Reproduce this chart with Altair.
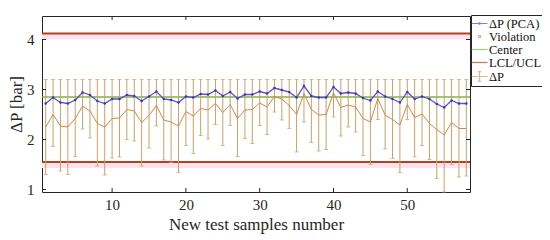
import altair as alt
import pandas as pd

# ---------------- data ----------------
samples = list(range(1, 59))
pca = [2.72, 2.84, 2.74, 2.72, 2.79, 2.94, 2.89, 2.77, 2.72, 2.81,
       2.81, 2.89, 2.87, 2.77, 2.86, 2.96, 2.81, 2.79, 2.74, 2.86,
       2.84, 2.91, 2.90, 2.98, 2.87, 2.95, 2.82, 2.90, 2.90, 2.96,
       2.92, 3.03, 2.99, 2.95, 2.84, 3.07, 2.87, 2.84, 2.84, 3.05,
       2.92, 2.94, 2.92, 2.83, 2.78, 2.96, 2.86, 2.81, 2.74, 2.95,
       2.81, 2.86, 2.81, 2.71, 2.64, 2.78, 2.72, 2.72]
dp = [2.25, 2.50, 2.27, 2.25, 2.42, 2.67, 2.57, 2.32, 2.25, 2.42,
      2.43, 2.60, 2.57, 2.34, 2.48, 2.68, 2.39, 2.35, 2.27, 2.56,
      2.47, 2.62, 2.59, 2.72, 2.54, 2.70, 2.42, 2.59, 2.60, 2.73,
      2.65, 2.86, 2.81, 2.68, 2.50, 2.92, 2.60, 2.49, 2.50, 2.93,
      2.64, 2.69, 2.65, 2.42, 2.35, 2.82, 2.49, 2.40, 2.29, 2.70,
      2.44, 2.51, 2.32, 2.20, 2.09, 2.34, 2.22, 2.22]
lower = [1.30, 1.86, 1.37, 1.30, 1.66, 2.21, 2.03, 1.47, 1.29, 1.63,
         1.65, 2.00, 1.97, 1.47, 1.83, 2.27, 1.59, 1.54, 1.34, 1.88,
         1.72, 2.08, 2.01, 2.30, 1.88, 2.28, 1.66, 2.02, 1.92, 2.28,
         2.10, 2.55, 2.39, 2.22, 1.75, 2.35, 1.94, 1.77, 1.80, 2.45,
         2.07, 2.25, 2.15, 1.68, 1.50, 2.40, 1.81, 1.62, 1.34, 2.40,
         1.65, 1.88, 1.60, 1.22, 0.95, 1.50, 1.25, 1.27]
upper = [3.2] * 58
center_val = [2.85]
limit_vals = [4.12, 1.55]
band_top = [4.12, 1.55]
band_bottom = [4.00, 1.43]
x_ticks = [10, 20, 30, 40, 50]
y_ticks = [1, 2, 3, 4]

legend_labels = ["ΔP (PCA)", "Violation", "Center", "LCL/UCL", "ΔP"]
legend_colors = ["#4f46d2", "#c98a5c", "#7db347", "#b5401a", "#c9a165"]
legend_shapes = [
    "M-1.45,0H1.45M-0.13,0A0.13,0.13 0 1,1 0.13,0A0.13,0.13 0 1,1 -0.13,0",
    "M-0.2,0A0.2,0.2 0 1,1 0.2,0A0.2,0.2 0 1,1 -0.2,0",
    "M-1.45,0H1.45",
    "M-1.45,0H1.45",
    "M-1.45,0H1.45M0,-0.9V0.9M-0.3,-0.9H0.3M-0.3,0.9H0.3",
]

# ---------------- chart ----------------
W, H = 428, 176
FONT = "Liberation Serif"
INK = "#262626"

df = pd.DataFrame({"n": samples, "pca": pca, "dp": dp, "lo": lower, "hi": upper})

xs = alt.Scale(domain=[0.5, 58.5], nice=False, zero=False)
ys = alt.Scale(domain=[0.95, 4.47], nice=False, zero=False)

xaxis = alt.Axis(values=x_ticks, title="New test samples number", ticks=False,
                 domain=False, grid=False, labelPadding=5, titlePadding=4,
                 labelFont=FONT, labelFontSize=15, labelColor=INK,
                 titleFont=FONT, titleFontSize=17, titleFontWeight="normal",
                 titleColor=INK)
yaxis = alt.Axis(values=y_ticks, title="ΔP [bar]", ticks=False, domain=False,
                 grid=False, labelPadding=8, titlePadding=1,
                 labelFont=FONT, labelFontSize=15, labelColor=INK,
                 titleFont=FONT, titleFontSize=17, titleFontWeight="normal",
                 titleColor=INK)


def X(field):
    return alt.X(field, type="quantitative", scale=xs, axis=xaxis)


def Y(field):
    return alt.Y(field, type="quantitative", scale=ys, axis=yaxis)


bands = alt.Chart(pd.DataFrame({"t": band_top, "b": band_bottom})).mark_rect(
    color="#fde2f1").encode(x=alt.value(0), x2=alt.value(W), y=Y("t"), y2="b")

center = alt.Chart(pd.DataFrame({"c": center_val})).mark_rule(
    color="#7db347", strokeWidth=1.5).encode(y=Y("c"))

limits = alt.Chart(pd.DataFrame({"l": limit_vals})).mark_rule(
    color="#b5401a", strokeWidth=1.8).encode(y=Y("l"))

base = alt.Chart(df)
err = base.mark_rule(color="#c9a165", strokeWidth=1).encode(x=X("n"), y=Y("lo"), y2="hi")
cap_hi = base.mark_tick(orient="horizontal", color="#c9a165", size=4, thickness=1).encode(
    x=X("n"), y=Y("hi"))
cap_lo = base.mark_tick(orient="horizontal", color="#c9a165", size=4, thickness=1).encode(
    x=X("n"), y=Y("lo"))
dp_line = base.mark_line(color="#d4874a", strokeWidth=1).encode(x=X("n"), y=Y("dp"))
pca_line = base.mark_line(color="#5b4fd6", strokeWidth=1.3).encode(x=X("n"), y=Y("pca"))
pca_pts = base.mark_point(filled=True, color="#3b36b0", size=6, opacity=1).encode(
    x=X("n"), y=Y("pca"))

xt = pd.DataFrame({"v": x_ticks})
yt = pd.DataFrame({"v": y_ticks})
tick_b = alt.Chart(xt).mark_rule(color=INK).encode(x=X("v"), y=alt.value(H), y2=alt.value(H - 4))
tick_t = alt.Chart(xt).mark_rule(color=INK).encode(x=X("v"), y=alt.value(0), y2=alt.value(4))
tick_l = alt.Chart(yt).mark_rule(color=INK).encode(y=Y("v"), x=alt.value(0), x2=alt.value(4))
tick_r = alt.Chart(yt).mark_rule(color=INK).encode(y=Y("v"), x=alt.value(W - 4), x2=alt.value(W))

leg_df = pd.DataFrame({"s": legend_labels, "n": [None] * 5})
legend_layer = alt.Chart(leg_df).mark_point(filled=False).encode(
    x=X("n"), y=Y("n"),
    color=alt.Color("s:N", scale=alt.Scale(domain=legend_labels, range=legend_colors),
                    legend=alt.Legend(title=None)),
    shape=alt.Shape("s:N", scale=alt.Scale(domain=legend_labels, range=legend_shapes),
                    legend=alt.Legend(title=None)),
)

chart = alt.layer(
    bands, center, limits, err, cap_hi, cap_lo, dp_line, pca_line, pca_pts,
    tick_b, tick_t, tick_l, tick_r, legend_layer,
).properties(
    width=W, height=H,
    background="white",
    padding={"left": 34, "top": 8, "right": 72, "bottom": 44},
    autosize=alt.AutoSizeParams(type="none"),
).configure_view(
    stroke=INK, strokeWidth=1
).configure_legend(
    orient="none", legendX=429, legendY=-1,
    strokeColor=INK, fillColor="white", padding=2,
    labelFont=FONT, labelFontSize=12.5, labelColor="#111111", labelOffset=3,
    symbolSize=121, symbolStrokeWidth=1.2, rowPadding=0,
)

chart.save("out.html", embed_options={"renderer": "svg", "actions": False})
